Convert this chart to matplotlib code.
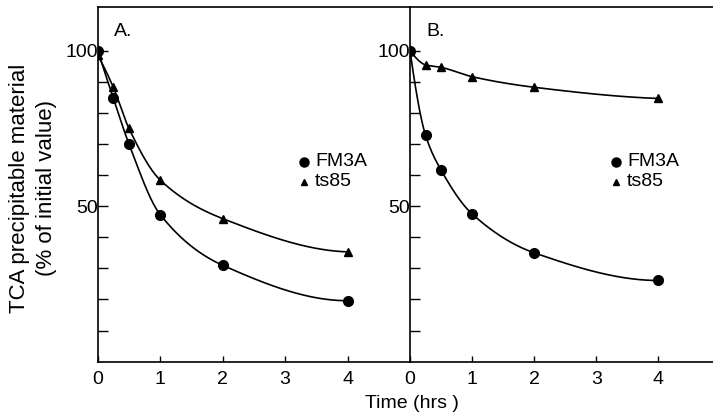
import numpy as np
import matplotlib
matplotlib.use("Agg")
import matplotlib.pyplot as plt

plt.rcParams['font.family'] = ['Liberation Sans', 'DejaVu Sans']

time_hrs = [0, 0.25, 0.5, 1, 2, 4]
a_fm3a = [100, 84.7, 70.0, 47.3, 31.0, 19.6]
a_ts85 = [98.5, 88.2, 75.0, 58.4, 46.0, 35.3]
b_fm3a = [100, 72.8, 61.6, 47.5, 35.0, 26.1]
b_ts85 = [100, 95.4, 94.6, 91.6, 88.2, 84.6]
x_ticks = [0, 1, 2, 3, 4]
y_major = [50, 100]
y_minor = [10, 20, 30, 40, 60, 70, 80, 90]
series_labels = ["FM3A", "ts85"]
panel_labels = ["A.", "B."]


def pchip(x, y, xn):
    x = np.asarray(x, float); y = np.asarray(y, float)
    h = np.diff(x); d = np.diff(y) / h
    n = len(x); m = np.zeros(n)
    for k in range(1, n - 1):
        if d[k - 1] * d[k] <= 0:
            m[k] = 0
        else:
            w1 = 2 * h[k] + h[k - 1]; w2 = h[k] + 2 * h[k - 1]
            m[k] = (w1 + w2) / (w1 / d[k - 1] + w2 / d[k])
    def endslope(h0, h1, d0, d1):
        s = ((2 * h0 + h1) * d0 - h0 * d1) / (h0 + h1)
        if np.sign(s) != np.sign(d0):
            s = 0
        elif np.sign(d0) != np.sign(d1) and abs(s) > abs(3 * d0):
            s = 3 * d0
        return s
    m[0] = endslope(h[0], h[1], d[0], d[1])
    m[-1] = endslope(h[-1], h[-2], d[-1], d[-2])
    idx = np.clip(np.searchsorted(x, xn) - 1, 0, n - 2)
    t = (xn - x[idx]) / h[idx]
    h00 = 2 * t**3 - 3 * t**2 + 1; h10 = t**3 - 2 * t**2 + t
    h01 = -2 * t**3 + 3 * t**2; h11 = t**3 - t**2
    return h00 * y[idx] + h10 * h[idx] * m[idx] + h01 * y[idx + 1] + h11 * h[idx] * m[idx + 1]


fig = plt.figure(figsize=(7.13, 4.13), dpi=100)
W, H = 713, 413
bottom = 1 - 361.7 / H
top = 1 - 7 / H
axA = fig.add_axes([97.7 / W, bottom, (410 - 97.7) / W, top - bottom])
axB = fig.add_axes([410 / W, bottom, (713 - 410) / W, top - bottom])

FS = 14
xs = np.linspace(0, 4, 400)
panels = [(axA, a_fm3a, a_ts85, 5.0, panel_labels[0], 114, 304),
          (axB, b_fm3a, b_ts85, 4.88, panel_labels[1], 426, 616)]
for ax, fm, ts, xmax, lab, labx, legx in panels:
    ax.plot(xs, pchip(time_hrs, fm, xs), color='black', lw=1.2)
    ax.plot(xs, pchip(time_hrs, ts, xs), color='black', lw=1.2)
    ax.plot(time_hrs, fm, 'o', color='black', ms=7, zorder=3)
    ax.plot(time_hrs, ts, '^', color='black', ms=5.5, zorder=3)
    ax.set_xlim(0, xmax)
    ax.set_ylim(0, 114)
    ax.set_xticks(x_ticks)
    ax.set_xticklabels([str(v) for v in x_ticks])
    ax.set_yticks(y_major)
    ax.set_yticklabels([str(v) for v in y_major])
    ax.set_yticks(y_minor, minor=True)
    ax.tick_params(axis='x', direction='in', length=4, width=1, pad=7, labelsize=FS)
    ax.tick_params(axis='y', which='both', direction='in', length=7, width=1, pad=0, labelsize=FS)
    ax.spines['right'].set_visible(False)
    for s in ['left', 'bottom', 'top']:
        ax.spines[s].set_linewidth(1.2)
    ax.set_facecolor('none')
    fig.text(labx / W, 1 - 32 / H, lab, fontsize=FS, ha='left', va='center')
    fig.lines.append(plt.Line2D([legx / W], [1 - 162 / H], marker='o', color='black',
                                ms=6.5, transform=fig.transFigure, ls='none'))
    fig.lines.append(plt.Line2D([legx / W], [1 - 182 / H], marker='^', color='black',
                                ms=5, transform=fig.transFigure, ls='none'))
    fig.text((legx + 11) / W, 1 - 162 / H, series_labels[0], fontsize=FS, va='center', ha='left')
    fig.text((legx + 11) / W, 1 - 182 / H, series_labels[1], fontsize=FS, va='center', ha='left')

fig.text(20 / W, 1 - 188 / H, "TCA precipitable material", rotation=90, fontsize=16,
         ha='center', va='center')
fig.text(47 / W, 1 - 188 / H, "(% of initial value)", rotation=90, fontsize=16,
         ha='center', va='center')
fig.text(412 / W, 1.5 / H, "Time (hrs )", fontsize=FS, ha='center', va='bottom')

fig.savefig("out.png", dpi=100)
